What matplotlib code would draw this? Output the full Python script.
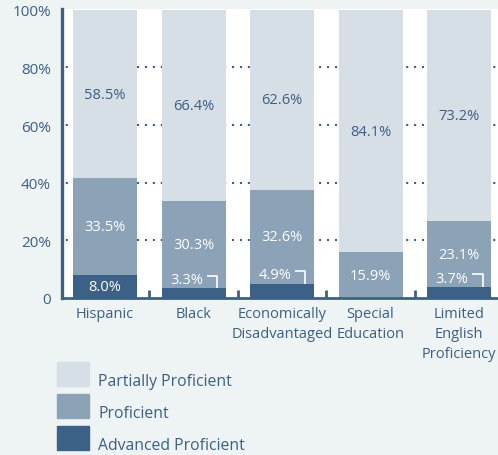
import numpy as np
import matplotlib.pyplot as plt
from matplotlib.patches import Rectangle

groups = ['Hispanic', 'Black', 'Economically\nDisadvantaged', 'Special\nEducation',
          'Limited\nEnglish\nProficiency']
advanced = [8.0, 3.3, 4.9, 0.0, 3.7]
proficient = [33.5, 30.3, 32.6, 15.9, 23.1]
partial = [58.5, 66.4, 62.6, 84.1, 73.2]
y_ticks = [0, 20, 40, 60, 80, 100]
y_labels = ['0', '20%', '40%', '60%', '80%', '100%']

BG = '#eef4f4'
LIGHT = '#d7dfe6'
MID = '#8ba2b7'
DARK = '#3c6186'
TXT = '#3b5f86'

plt.rcParams['font.family'] = ['Open Sans', 'DejaVu Sans']

fig = plt.figure(figsize=(4.98, 4.56), dpi=100, facecolor=BG)
ax = fig.add_axes([62 / 498, 157 / 456, 436 / 498, 289 / 456])
ax.set_facecolor('white')

x = np.arange(len(groups))
w = 0.723
adv = np.array(advanced)
pro = np.array(proficient)
par = np.array(partial)

# dotted guide lines, hidden behind the bars
for yv in [20, 40, 60, 80]:
    ax.axhline(yv, color=DARK, lw=1.5, linestyle=(2, (1, 2.8)), zorder=1)

ax.bar(x, adv, w, color=DARK, zorder=2)
ax.bar(x, pro, w, bottom=adv, color=MID, zorder=2)
ax.bar(x, par, w, bottom=adv + pro, color=LIGHT, zorder=2)

for i in range(len(groups)):
    ax.text(x[i], adv[i] + pro[i] + par[i] / 2, f'{par[i]:.1f}%', ha='center', va='center',
            color=TXT, fontsize=10.5, zorder=3)
    ax.text(x[i], adv[i] + pro[i] / 2, f'{pro[i]:.1f}%', ha='center', va='center',
            color='white', fontsize=10.5, zorder=3)
    if adv[i] >= 6:
        ax.text(x[i], adv[i] / 2, f'{adv[i]:.1f}%', ha='center', va='center',
                color='white', fontsize=10.5, zorder=3)
    elif adv[i] > 0:
        # small value: label sits above the segment with a hook pointing down
        ax.text(x[i] - 0.08, adv[i] + 3.1, f'{adv[i]:.1f}%', ha='center', va='center',
                color='white', fontsize=10.5, zorder=3)
        ax.plot([x[i] + 0.15, x[i] + 0.265, x[i] + 0.265],
                [adv[i] + 4.5, adv[i] + 4.5, adv[i]],
                color='white', lw=1.2, zorder=3, solid_capstyle='butt')

ax.set_xlim(-0.486, 4.44)
ax.set_ylim(0, 100.3)
ax.set_yticks(y_ticks)
ax.set_yticklabels(y_labels)
ax.tick_params(axis='y', length=0, pad=8, labelsize=11, labelcolor=TXT)
ax.set_xticks(x)
ax.set_xticklabels(groups, linespacing=1.45)
ax.tick_params(axis='x', which='major', length=0, pad=6, labelsize=10.5, labelcolor=TXT)
ax.set_xticks(x[:-1] + 0.5, minor=True)
ax.tick_params(axis='x', which='minor', direction='in', length=6, width=2, color=DARK)

for s in ['top', 'right']:
    ax.spines[s].set_visible(False)
ax.spines['left'].set_color(DARK)
ax.spines['left'].set_linewidth(2.4)
ax.spines['bottom'].set_color(DARK)
ax.spines['bottom'].set_linewidth(2)

# legend
entries = [('Partially Proficient', LIGHT), ('Proficient', MID), ('Advanced Proficient', DARK)]
for k, (name, col) in enumerate(entries):
    top = 363 + k * 32
    fig.patches.append(Rectangle((57 / 498, 1 - (top + 24) / 456), 32 / 498, 24 / 456,
                                 transform=fig.transFigure, color=col))
    fig.text(98 / 498, 1 - (top + 19) / 456, name, ha='left', va='center',
             color=TXT, fontsize=11.3)

fig.savefig('out.png', dpi=100, facecolor=BG)
